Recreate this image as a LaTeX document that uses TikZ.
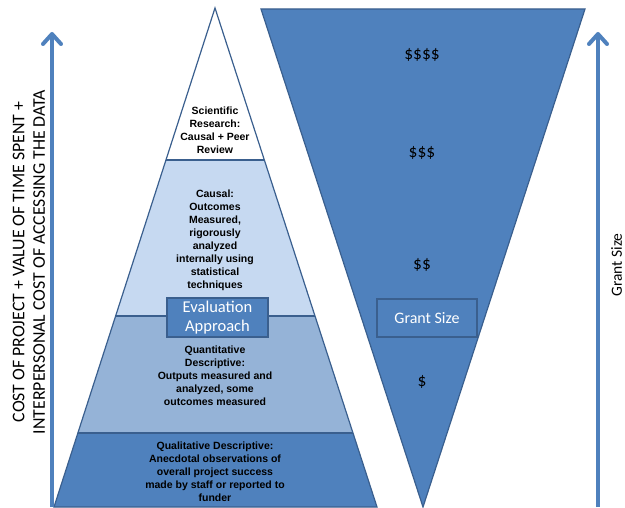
\documentclass[tikz,border=0pt]{standalone}
\usepackage{fontspec}
\setmainfont{Carlito}
\newfontfamily\arialb{Liberation Sans}[BoldFont={Liberation Sans Bold}]
\definecolor{edge}{HTML}{3A5F8E}
\definecolor{lay1}{HTML}{C6D9F1}
\definecolor{lay2}{HTML}{95B3D7}
\definecolor{lay3}{HTML}{4F81BD}
\definecolor{axis}{HTML}{4F81BD}
\tikzset{
  layer/.style={draw=edge, line width=1.2pt, line join=miter},
  ptext/.style={align=center, font=\arialb\bfseries\fontsize{10.5}{13}\selectfont, inner sep=0pt},
  lblbox/.style={draw=edge, fill=lay3, line width=1.4pt, text=white, align=center, inner sep=0pt,
     font=\fontsize{16.5}{19.5}\selectfont},
  dollar/.style={font=\fontsize{17.5}{19}\selectfont, inner sep=0pt},
  axisline/.style={draw=axis, line width=4pt},
  axishead/.style={draw=axis, line width=4pt, line cap=round, line join=round},
  axtext/.style={font=\fontsize{17.8}{20.5}\selectfont, align=center, inner sep=0pt, rotate=90}
}
\begin{document}
\begin{tikzpicture}[x=1pt,y=-1pt]
\useasboundingbox (0,0) rectangle (625,508);
% pyramid corners
\coordinate (apex) at (215,8);
\coordinate (aL) at (166,160); \coordinate (aR) at (264.3,160);
\coordinate (bL) at (115.6,316); \coordinate (bR) at (315,316);
\coordinate (cL) at (78,433); \coordinate (cR) at (353,433);
\coordinate (dL) at (54,507); \coordinate (dR) at (377,507);
% layers
\fill[lay3] (cL) -- (cR) -- (dR) -- (dL) -- cycle;
\fill[lay2] (bL) -- (bR) -- (cR) -- (cL) -- cycle;
\fill[lay1] (aL) -- (aR) -- (bR) -- (bL) -- cycle;
\fill[white] (apex) -- (aR) -- (aL) -- cycle;
\draw[layer] (apex) -- (dR) -- (dL) -- cycle;
\draw[layer] (aL) -- (aR);
\draw[layer] (bL) -- (bR);
\draw[layer] (cL) -- (cR);
% inverted triangle
\coordinate (tL) at (261,9); \coordinate (tR) at (585,9); \coordinate (tB) at (423,507);
\draw[layer, fill=lay3] (tL) -- (tR) -- (tB) -- cycle;
% pyramid texts
\node[ptext] (sci) at (215,130) {Scientific\\Research:\\Causal + Peer\\Review};
\node[ptext] (cau) at (215,240) {Causal:\\Outcomes\\Measured,\\rigorously\\analyzed\\internally using\\statistical\\techniques};
\node[ptext] (qua) at (215,375.5) {Quantitative\\Descriptive:\\Outputs measured and\\analyzed, some\\outcomes measured};
\node[ptext] (qul) at (215,471.5) {Qualitative Descriptive:\\Anecdotal observations of\\overall project success\\made by staff or reported to\\funder};
% label boxes
\node[lblbox, minimum width=101pt, minimum height=39pt] (eval) at (217.5,317.5) {Evaluation\\Approach};
\node[lblbox, minimum width=100pt, minimum height=38pt, font=\fontsize{16}{19}\selectfont] (grant) at (427,318) {Grant Size};
% dollars
\node[dollar] (d4) at (422,55) {\$\$\$\$};
\node[dollar] (d3) at (422,153) {\$\$\$};
\node[dollar] (d2) at (422,265) {\$\$};
\node[dollar] (d1) at (422,382) {\$};
% axes
\coordinate (lb) at (52,507); \coordinate (lt) at (52,34);
\coordinate (ll) at (43,44); \coordinate (lr) at (61,44);
\draw[axisline] (lb) -- (lt);
\draw[axishead] (ll) -- (lt) -- (lr);
\coordinate (rb) at (598,507); \coordinate (rt) at (598,34);
\coordinate (rl) at (589,44); \coordinate (rr) at (607,44);
\draw[axisline] (rb) -- (rt);
\draw[axishead] (rl) -- (rt) -- (rr);
% axis texts
\node[axtext] (cost) at (29,262) {COST OF PROJECT + VALUE OF TIME SPENT +\\INTERPERSONAL COST OF ACCESSING THE DATA};
\node[axtext, font=\fontsize{15.5}{18}\selectfont] (gs) at (616.5,265) {Grant Size};
\end{tikzpicture}
\end{document}
